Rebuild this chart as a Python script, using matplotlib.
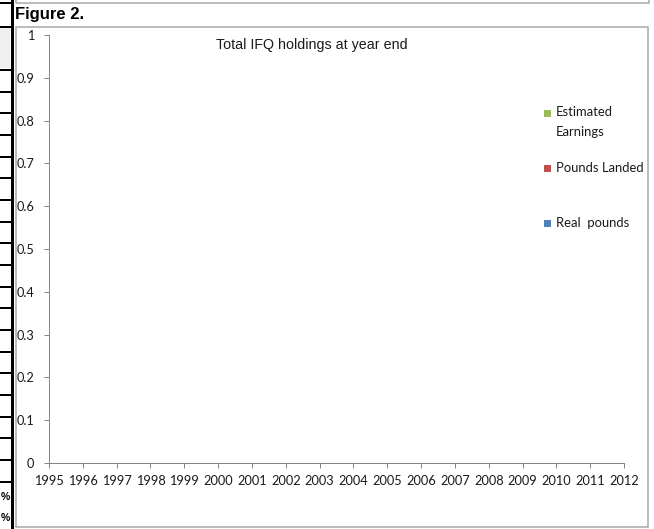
import numpy as np
import matplotlib
matplotlib.use("Agg")
import matplotlib.pyplot as plt
from matplotlib.lines import Line2D
from matplotlib.patches import Rectangle

# ----------------
# chart data
# ----------------
years = [str(y) for y in range(1995, 2013)]
y_ticks = [0, 0.1, 0.2, 0.3, 0.4, 0.5, 0.6, 0.7, 0.8, 0.9, 1]
y_labels = ["0", "0.1", "0.2", "0.3", "0.4", "0.5", "0.6", "0.7", "0.8", "0.9", "1"]

# the chart has no plotted values, only the legend entries
series_names = ["Estimated\nEarnings", "Pounds Landed", "Real  pounds"]
series_colors = ["#9BBB59", "#C0504D", "#4F81BD"]
earnings = []
pounds_landed = []
real_pounds = []

W, H = 654, 529
DPI = 100

def fx(x):
    return x / W

def fy(y):
    return 1 - y / H

def lw(px):
    return px * 72 / DPI

fig = plt.figure(figsize=(W / DPI, H / DPI), dpi=DPI)
fig.patch.set_facecolor("white")

# spreadsheet bits around the chart
fig.add_artist(Rectangle((fx(0), fy(68)), fx(10), fy(28) - fy(68),
                         transform=fig.transFigure, facecolor="#EFEFEF", edgecolor="none"))
row_lines = [3, 27, 70, 92, 113, 135, 157, 178, 200, 222, 243, 265, 287, 308,
             330, 352, 373, 395, 417, 438, 460, 482]
for yy in row_lines:
    fig.add_artist(Line2D([fx(0), fx(11)], [fy(yy), fy(yy)], transform=fig.transFigure,
                          color="black", lw=lw(2)))
fig.add_artist(Line2D([fx(11.5), fx(11.5)], [0, 1], transform=fig.transFigure,
                      color="black", lw=lw(3)))
for yy in [497, 518]:
    fig.text(fx(0.5), fy(yy), "%", ha="left", va="center", fontsize=7.5,
             fontweight="bold", family="Liberation Sans")

# box above and chart frame
fig.add_artist(Line2D([fx(15.5), fx(15.5), fx(649), fx(649)], [1, fy(3), fy(3), 1],
                      transform=fig.transFigure, color="#A6A6A6", lw=lw(1.5)))
fig.add_artist(Rectangle((fx(15.5), fy(527)), fx(648) - fx(15.5), fy(27) - fy(527),
                         transform=fig.transFigure, facecolor="none",
                         edgecolor="#A6A6A6", lw=lw(1.5)))
fig.text(fx(15), fy(14), "Figure 2.", ha="left", va="center", fontsize=12,
         fontweight="bold", family="Liberation Sans")

# plot area
ax = fig.add_axes([fx(49), fy(463), fx(624) - fx(49), fy(35) - fy(463)])
ax.set_facecolor("none")
x = np.arange(len(years))
bw = 0.25
ax.bar(x[:len(earnings)] - bw, earnings, bw, color=series_colors[0])
ax.bar(x[:len(pounds_landed)], pounds_landed, bw, color=series_colors[1])
ax.bar(x[:len(real_pounds)] + bw, real_pounds, bw, color=series_colors[2])

ax.set_xlim(0, len(years) - 1)
ax.set_ylim(0, 1)
ax.set_xticks(x)
ax.set_xticklabels(years, family="Lato", fontsize=9.2, color="#1A1A1A")
ax.set_yticks(y_ticks)
ax.set_yticklabels(y_labels, family="Lato", fontsize=9.2, color="#1A1A1A")
for s in ["top", "right"]:
    ax.spines[s].set_visible(False)
for s in ["left", "bottom"]:
    ax.spines[s].set_color("#868686")
    ax.spines[s].set_linewidth(lw(1))
ax.tick_params(axis="both", direction="out", length=lw(5), width=lw(1), color="#868686")
ax.tick_params(axis="y", pad=7)
ax.tick_params(axis="x", pad=5)

fig.text(fx(312), fy(45), "Total IFQ holdings at year end", ha="center", va="center",
         fontsize=10.3, family="Liberation Sans", color="#1A1A1A")

# legend drawn by hand, as in the sheet
leg_y = [113, 168, 223]
for name, col, yy in zip(series_names, series_colors, leg_y):
    fig.add_artist(Rectangle((fx(544), fy(yy + 3.5)), fx(6.5), fy(yy - 3) - fy(yy + 3.5),
                             transform=fig.transFigure, facecolor=col, edgecolor="none"))
    extra = 9 * name.count("\n")
    fig.text(fx(556), fy(yy + extra), name, ha="left", va="center",
             fontsize=9.4, family="Lato", color="#1A1A1A", linespacing=1.7)

fig.savefig("out.png", dpi=DPI)
